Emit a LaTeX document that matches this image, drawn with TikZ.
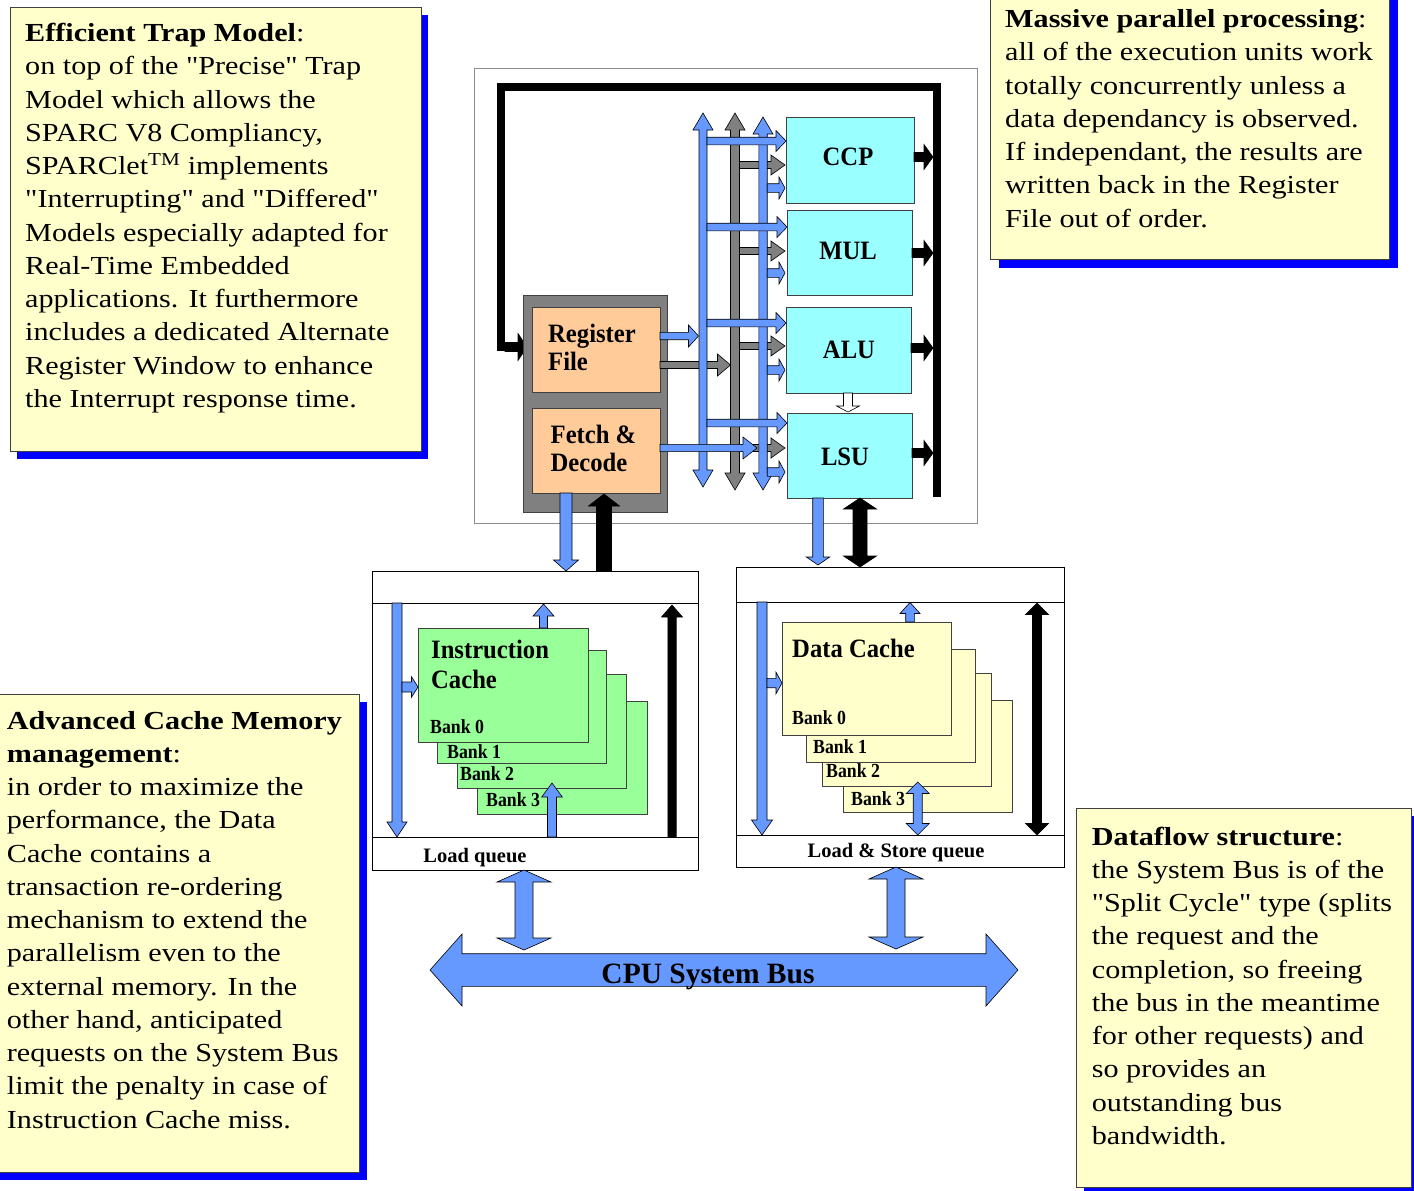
\documentclass[tikz,border=0pt]{standalone}
\usepackage{fontspec}
\newfontfamily\bodyfont{Liberation Serif}[FakeStretch=1.16]
\newfontfamily\condfont{Liberation Serif}[FakeStretch=0.93]
\newfontfamily\bankfont{Liberation Serif}[FakeStretch=0.89]
\newfontfamily\plainfont{Liberation Serif}
\usetikzlibrary{calc}
\definecolor{noteyel}{RGB}{255,255,204}
\definecolor{shadowblue}{RGB}{0,0,255}
\definecolor{arrblue}{RGB}{102,153,255}
\definecolor{cyanu}{RGB}{153,255,255}
\definecolor{peach}{RGB}{255,204,153}
\definecolor{greenb}{RGB}{153,255,153}
\definecolor{midgray}{RGB}{128,128,128}
% single block arrow: style, from, to, half shaft, half head, head length
\newcommand\sarr[6]{%
  \coordinate (sa-c) at ($(#3)!#6!(#2)$);
  \draw[#1] ($(#2)!#4!90:(#3)$) -- ($(sa-c)!#4!90:(#3)$) -- ($(sa-c)!#5!90:(#3)$) -- (#3)
    -- ($(sa-c)!#5!-90:(#3)$) -- ($(sa-c)!#4!-90:(#3)$) -- ($(#2)!#4!-90:(#3)$) -- cycle;}
% double block arrow
\newcommand\darr[6]{%
  \coordinate (da-a) at ($(#2)!#6!(#3)$);
  \coordinate (da-b) at ($(#3)!#6!(#2)$);
  \draw[#1] (#2) -- ($(da-a)!#5!90:(#3)$) -- ($(da-a)!#4!90:(#3)$) -- ($(da-b)!#4!90:(#3)$)
    -- ($(da-b)!#5!90:(#3)$) -- (#3) -- ($(da-b)!#5!-90:(#3)$) -- ($(da-b)!#4!-90:(#3)$)
    -- ($(da-a)!#4!-90:(#3)$) -- ($(da-a)!#5!-90:(#3)$) -- cycle;}
\tikzset{
  box/.style={draw=black!75, line width=0.8pt, inner sep=0pt, outer sep=0pt, anchor=north west},
  shadowbox/.style={fill=shadowblue, draw=none, inner sep=0pt, outer sep=0pt, anchor=north west},
  notebox/.style={box, fill=noteyel},
  cpubox/.style={box, draw=black!45, fill=white},
  cachebox/.style={box, draw=black, fill=white},
  unitbox/.style={box, fill=cyanu},
  regbox/.style={box, fill=peach},
  graybox/.style={box, fill=midgray},
  ibank/.style={box, fill=greenb},
  dbank/.style={box, fill=noteyel},
  arr/.style={draw=black, line width=0.6pt, line join=miter},
  bluearr/.style={arr, fill=arrblue},
  grayarr/.style={arr, fill=midgray},
  blackarr/.style={arr, fill=black},
  whitearr/.style={arr, fill=white},
  notetext/.style={anchor=base west, inner sep=0pt, font=\bodyfont\fontsize{26}{33.25}\selectfont},
  unitlabel/.style={anchor=base, inner sep=0pt, font=\condfont\bfseries\fontsize{26.5}{28}\selectfont},
  reglabel/.style={anchor=base west, inner sep=0pt, font=\condfont\bfseries\fontsize{26.5}{28.5}\selectfont},
  cachelabel/.style={anchor=base west, inner sep=0pt, font=\condfont\bfseries\fontsize{26.5}{30}\selectfont},
  banklabel/.style={anchor=base west, inner sep=0pt, font=\bankfont\bfseries\fontsize{20}{22}\selectfont},
  queuelabel/.style={anchor=base, inner sep=0pt, font=\plainfont\bfseries\fontsize{20.5}{22}\selectfont},
  buslabel/.style={anchor=base, inner sep=0pt, font=\plainfont\bfseries\fontsize{29.5}{31}\selectfont},
}
\begin{document}
\begin{tikzpicture}[x=1pt,y=-1pt]
\useasboundingbox (0,0) rectangle (1414,1191);
\fill[white] (0,0) rectangle (1414,1191);

% ---------- note boxes ----------
\node[shadowbox, minimum width=411pt, minimum height=444pt] (shA) at (17,15) {};
\node[notebox, minimum width=411pt, minimum height=444pt] (noteA) at (10,7) {};
\node[notetext] (txtA) at (25,41.7) {\parbox[t]{400pt}{\raggedright
{\bfseries Efficient Trap Model}:\\
on top of the "Precise" Trap\\
Model which allows the\\
SPARC V8 Compliancy,\\
SPARClet\textsuperscript{TM} implements\\
"Interrupting" and "Differed"\\
Models especially adapted for\\
Real-Time Embedded\\
applications. It furthermore\\
includes a dedicated Alternate\\
Register Window to enhance\\
the Interrupt response time.}};

\node[shadowbox, minimum width=399pt, minimum height=269pt] (shB) at (999,-1) {};
\node[notebox, minimum width=399pt, minimum height=269pt] (noteB) at (990,-10) {};
\node[notetext] (txtB) at (1005,27.5) {\parbox[t]{400pt}{\raggedright
{\bfseries Massive parallel processing}:\\
all of the execution units work\\
totally concurrently unless a\\
data dependancy is observed.\\
If independant, the results are\\
written back in the Register\\
File out of order.}};

\node[shadowbox, minimum width=367pt, minimum height=478pt] (shC) at (0,702) {};
\node[notebox, minimum width=367pt, minimum height=478pt] (noteC) at (-8,694) {};
\node[notetext] (txtC) at (6.7,729) {\parbox[t]{400pt}{\raggedright
{\bfseries Advanced Cache Memory}\\
{\bfseries management}:\\
in order to maximize the\\
performance, the Data\\
Cache contains a\\
transaction re-ordering\\
mechanism to extend the\\
parallelism even to the\\
external memory. In the\\
other hand, anticipated\\
requests on the System Bus\\
limit the penalty in case of\\
Instruction Cache miss.}};

\node[shadowbox, minimum width=335pt, minimum height=379pt] (shD) at (1084,816) {};
\node[notebox, minimum width=335pt, minimum height=379pt] (noteD) at (1076,808) {};
\node[notetext] (txtD) at (1091.7,845) {\parbox[t]{400pt}{\raggedright
{\bfseries Dataflow structure}:\\
the System Bus is of the\\
"Split Cycle" type (splits\\
the request and the\\
completion, so freeing\\
the bus in the meantime\\
for other requests) and\\
so provides an\\
outstanding bus\\
bandwidth.}};

% ---------- CPU core ----------
\node[cpubox, minimum width=503pt, minimum height=455pt] (cpu) at (474,68) {};
\coordinate (loopR) at (937,497);
\draw[line width=8.5pt, line join=miter] (loopR) -- (937,87) -- (501,87) -- (501,347) -- (512,347);
\sarr{blackarr}{505,347}{527,347}{4.5pt}{13.5pt}{9pt}

\node[graybox, minimum width=144pt, minimum height=217pt] (front) at (523,295) {};
\node[regbox, minimum width=128pt, minimum height=85pt] (rf) at (532,307) {};
\node[regbox, minimum width=128pt, minimum height=85pt] (fd) at (532,408) {};
\node[reglabel] (rftxt) at (548,342) {\parbox[t]{120pt}{Register\\File}};
\node[reglabel] (fdtxt) at (550.5,443) {\parbox[t]{120pt}{Fetch \&\\Decode}};

\node[unitbox, minimum width=128pt, minimum height=86pt] (ccp) at (786,117) {};
\node[unitbox, minimum width=125pt, minimum height=85pt] (mul) at (787,210) {};
\node[unitbox, minimum width=125pt, minimum height=86pt] (alu) at (786,307) {};
\node[unitbox, minimum width=125pt, minimum height=85pt] (lsu) at (787,413) {};
\node[unitlabel] (ccptxt) at (848,165) {CCP};
\node[unitlabel] (multxt) at (848,259) {MUL};
\node[unitlabel] (alutxt) at (849,358) {ALU};
\node[unitlabel] (lsutxt) at (845,465) {LSU};

% register file gray output (behind buses)
\sarr{grayarr}{rf.east |- 0,365}{730.5,365}{3.5pt}{11pt}{13pt}

% buses
\darr{bluearr}{703,113}{703,487}{4pt}{10pt}{17pt}
\darr{grayarr}{735,113}{735,490}{4.5pt}{10pt}{17pt}
% gray operand arrows
\foreach \yy in {165,251,346,448}{\sarr{grayarr}{739.5,\yy}{785,\yy}{3.5pt}{10pt}{14pt}}
\darr{bluearr}{763,117}{763,490}{4.2pt}{10pt}{17pt}
% blue operand arrows
\sarr{bluearr}{707,141}{ccp.west |- 0,141}{3.8pt}{10.5pt}{10pt}
\sarr{bluearr}{707,227}{mul.west |- 0,227}{3.8pt}{10.5pt}{10pt}
\sarr{bluearr}{707,323}{alu.west |- 0,323}{3.8pt}{10.5pt}{10pt}
\sarr{bluearr}{707,423}{lsu.west |- 0,423}{3.8pt}{10.5pt}{10pt}
\foreach \yy in {188,273,370,472}{\sarr{bluearr}{767.2,\yy}{785,\yy}{4.3pt}{11pt}{6pt}}

% register file / fetch outputs
\sarr{bluearr}{rf.east |- 0,336}{698.5,336}{3.7pt}{11pt}{10pt}
\sarr{bluearr}{fd.east |- 0,448}{757,448}{3.6pt}{11pt}{14pt}

% unit results
\sarr{blackarr}{ccp.east |- 0,157}{933,157}{4.5pt}{12.5pt}{9pt}
\sarr{blackarr}{mul.east |- 0,253}{933,253}{4.5pt}{12.5pt}{9pt}
\sarr{blackarr}{alu.east |- 0,348}{933,348}{4.5pt}{12.5pt}{9pt}
\sarr{blackarr}{lsu.east |- 0,453}{933,453}{4.5pt}{12.5pt}{9pt}
\sarr{whitearr}{alu.south -| 848,0}{848,412}{4.5pt}{11.5pt}{6pt}

% ---------- caches ----------
\node[cachebox, minimum width=326pt, minimum height=299pt] (icache) at (372,571) {};
\draw[black, line width=0.8pt] ([yshift=-32pt]icache.north west) -- ([yshift=-32pt]icache.north east);
\draw[black, line width=0.8pt] ([yshift=-266pt]icache.north west) -- ([yshift=-266pt]icache.north east);
\node[queuelabel] (lq) at (475,862) {Load queue};

\node[cachebox, minimum width=328pt, minimum height=300pt] (dcache) at (736,567) {};
\draw[black, line width=0.8pt] ([yshift=-35pt]dcache.north west) -- ([yshift=-35pt]dcache.north east);
\draw[black, line width=0.8pt] ([yshift=-268pt]dcache.north west) -- ([yshift=-268pt]dcache.north east);
\node[queuelabel] (lsq) at (896,857) {Load \& Store queue};

% CPU <-> caches
\sarr{bluearr}{fd.south -| 566,0}{icache.north -| 566,0}{6pt}{12.5pt}{11pt}
\sarr{blackarr}{icache.north -| 604,0}{604,494}{7.5pt}{15.5pt}{12pt}
\sarr{bluearr}{lsu.south -| 818,0}{818,565}{5.3pt}{11.7pt}{8pt}
\darr{blackarr}{lsu.south -| 860,0}{dcache.north -| 860,0}{7pt}{16.5pt}{11pt}

% instruction cache banks
\node[ibank, minimum width=170pt, minimum height=113pt] (ib3) at (477,701) {};
\node[ibank, minimum width=169pt, minimum height=114pt] (ib2) at (457,674) {};
\node[ibank, minimum width=169pt, minimum height=113pt] (ib1) at (437,650) {};
\node[ibank, minimum width=170pt, minimum height=114pt] (ib0) at (418,628) {};
\node[cachelabel] (ictxt) at (431,658) {\parbox[t]{150pt}{Instruction\\Cache}};
\node[banklabel] (ib0t) at (430,733) {Bank 0};
\node[banklabel] (ib1t) at (447,758) {Bank 1};
\node[banklabel] (ib2t) at (460,780) {Bank 2};
\node[banklabel] (ib3t) at (486,806) {Bank 3};

\sarr{bluearr}{397,603}{397,837}{5pt}{10pt}{15pt}
\sarr{bluearr}{402,687}{ib0.west |- 0,687}{5pt}{10.3pt}{6.5pt}
\sarr{bluearr}{ib0.north -| 543.5,0}{543.5,604}{4pt}{10.5pt}{12pt}
\sarr{bluearr}{552,837}{552,783}{4.5pt}{10.3pt}{14pt}
\sarr{blackarr}{672,837}{672,605}{4.2pt}{10.5pt}{12pt}

% data cache banks
\node[dbank, minimum width=169pt, minimum height=112pt] (db3) at (843,700) {};
\node[dbank, minimum width=169pt, minimum height=113pt] (db2) at (822,673) {};
\node[dbank, minimum width=169pt, minimum height=113pt] (db1) at (806,649) {};
\node[dbank, minimum width=169pt, minimum height=113pt] (db0) at (782,622) {};
\node[cachelabel] (dctxt) at (792,657) {Data Cache};
\node[banklabel] (db0t) at (792,724) {Bank 0};
\node[banklabel] (db1t) at (813,753) {Bank 1};
\node[banklabel] (db2t) at (826,777) {Bank 2};
\node[banklabel] (db3t) at (851,805) {Bank 3};

\sarr{bluearr}{762,602}{762,835}{5pt}{10.5pt}{15pt}
\sarr{bluearr}{767,683}{db0.west |- 0,683}{4.7pt}{10.8pt}{6pt}
\sarr{bluearr}{db0.north -| 910,0}{910,602.5}{4.3pt}{10pt}{11pt}
\darr{bluearr}{917.7,835}{917.7,782}{4.5pt}{11.5pt}{11.5pt}
\darr{blackarr}{1037,603}{1037,835}{4.5pt}{11.5pt}{11.5pt}

% ---------- system bus ----------
\darr{bluearr}{430,970}{1018,970}{16.3pt}{36pt}{32pt}
\node[buslabel] (bustxt) at (708,983) {CPU System Bus};
\darr{bluearr}{icache.south -| 524,0}{524,950}{9pt}{27pt}{12pt}
\darr{bluearr}{dcache.south -| 896,0}{896,949}{9pt}{27pt}{12pt}
\end{tikzpicture}
\end{document}
